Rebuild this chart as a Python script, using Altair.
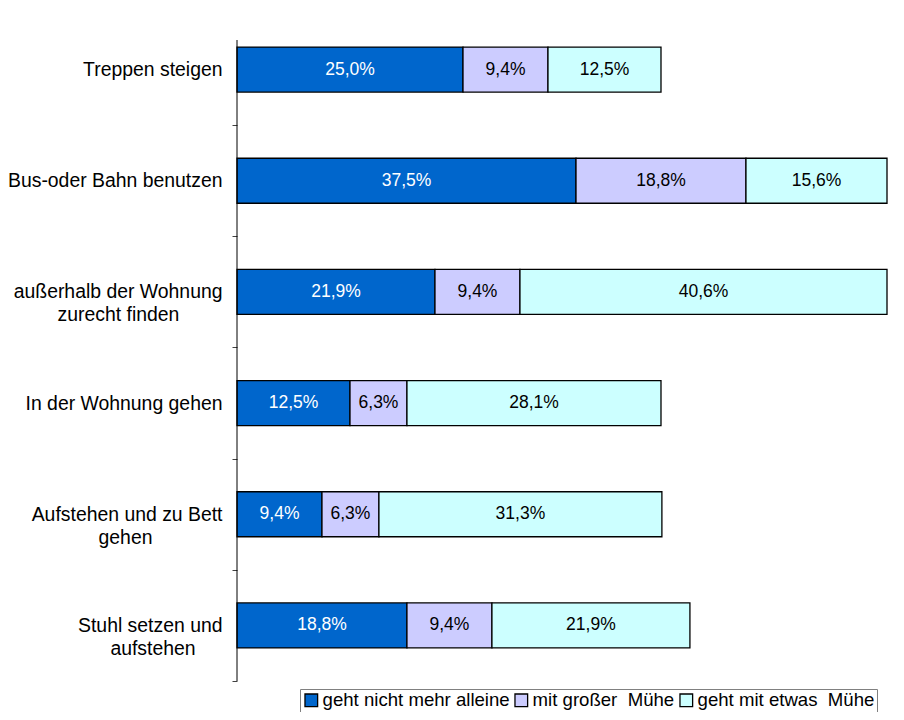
import altair as alt
import pandas as pd

# ---- data ----
label_lines = [
    ["Treppen steigen"],
    ["Bus-oder Bahn benutzen"],
    ["außerhalb der Wohnung", "zurecht finden"],
    ["In der Wohnung gehen"],
    ["Aufstehen und zu Bett", "gehen"],
    ["Stuhl setzen und", "aufstehen"],
]
series = ["geht nicht mehr alleine", "mit großer\u00a0 Mühe", "geht mit etwas\u00a0 Mühe"]
nicht_alleine = [25.0, 37.5, 21.9, 12.5, 9.4, 18.8]
grosse_muehe = [9.4, 18.8, 9.4, 6.3, 6.3, 9.4]
etwas_muehe = [12.5, 15.6, 40.6, 28.1, 31.3, 21.9]

# ---- style ----
colors = ["#0066CC", "#CCCCFF", "#CCFFFF"]
FONT = "Liberation Sans"
LABEL_SIZE = 19.4
LEGEND_SIZE = 18.6
# non-breaking-space padding so that a short second line appears centred under the first
center_pad = {"zurecht finden": 8, "gehen": 13, "aufstehen": 5}

keys = []
for lines in label_lines:
    out = [lines[0]] + [ln + "\u00a0" * center_pad.get(ln, 0) + "\u2060" for ln in lines[1:]]
    keys.append("|".join(out))

vals = [nicht_alleine, grosse_muehe, etwas_muehe]
rows = []
for i, key in enumerate(keys):
    for j, s in enumerate(series):
        rows.append({"cat": key, "series": s, "o": j, "value": vals[j][i]})
df = pd.DataFrame(rows)

base = alt.Chart(df).transform_stack(
    stack="value", groupby=["cat"], as_=["x0", "x1"],
    sort=[alt.SortField("o", order="ascending")],
).transform_calculate(
    mid="(datum.x0 + datum.x1) / 2",
    lab="replace(format(datum.value, '.1f'), '.', ',') + '%'",
)

HEIGHT = 667
STEP = HEIGHT / 6.0

yenc = alt.Y(
    "cat:N", sort=keys, title=None,
    scale=alt.Scale(paddingInner=0.595, paddingOuter=0.2975),
    axis=alt.Axis(
        labelExpr="split(datum.label, '|')",
        labelFont=FONT, labelFontSize=LABEL_SIZE, labelColor="#000000",
        labelLineHeight=23, labelPadding=10, labelLimit=300,
        labelBaseline="middle",
        domain=False, tickSize=5, tickWidth=1, tickColor="#404040",
        tickOffset=STEP / 2, labelOffset=-STEP / 2,
    ),
)
xscale = alt.Scale(domain=[0, 71.9], nice=False, zero=True)

bars = base.mark_bar(stroke="black", strokeWidth=1.3).encode(
    y=yenc,
    x=alt.X("x0:Q", scale=xscale, axis=None),
    x2="x1:Q",
    color=alt.Color(
        "series:N", sort=series,
        scale=alt.Scale(domain=series, range=colors),
        legend=alt.Legend(
            title=None, orient="none", legendX=63, legendY=675,
            direction="horizontal", symbolType="square", symbolSize=160,
            symbolStrokeColor="black", symbolStrokeWidth=1.3,
            labelFont=FONT, labelFontSize=LEGEND_SIZE, labelColor="#000000",
            strokeColor="#808080", fillColor="white", padding=2,
            columnPadding=2, labelOffset=2, labelLimit=400,
        ),
    ),
)

text = base.mark_text(font=FONT, fontSize=17.5, baseline="middle").encode(
    y=alt.Y("cat:N", sort=keys),
    x=alt.X("mid:Q", scale=xscale),
    text="lab:N",
    color=alt.condition("datum.o == 0", alt.value("white"), alt.value("black")),
)

axis_line = alt.Chart(alt.Data(values=[{}])).mark_rule(color="black", strokeWidth=1).encode(
    x=alt.value(0), y=alt.value(26), y2=alt.value(HEIGHT)
)

chart = alt.layer(bars, text, axis_line).properties(
    width=650, height=HEIGHT,
    padding={"left": 229, "top": 6, "right": 9, "bottom": 31},
    autosize=alt.AutoSizeParams(type="none"),
).configure_view(stroke=None)

chart.save("out.html", embed_options={"renderer": "svg", "actions": False})
